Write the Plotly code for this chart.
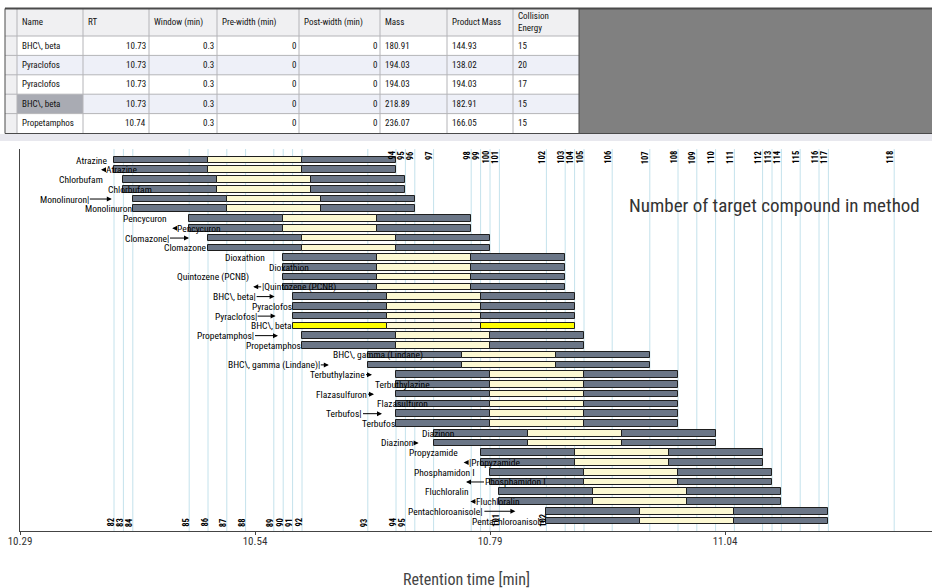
import plotly.graph_objects as go

# ---------------- table data ----------------
tbl_header = ["Name", "RT", "Window (min)", "Pre-width (min)", "Post-width (min)",
              "Mass", "Product Mass", "Collision<br>Energy"]
tbl_name = ["BHC\\, beta", "Pyraclofos", "Pyraclofos", "BHC\\, beta", "Propetamphos"]
tbl_rt = ["10.73", "10.73", "10.73", "10.73", "10.74"]
tbl_window = ["0.3", "0.3", "0.3", "0.3", "0.3"]
tbl_pre = ["0", "0", "0", "0", "0"]
tbl_post = ["0", "0", "0", "0", "0"]
tbl_mass = ["180.91", "194.03", "194.03", "218.89", "236.07"]
tbl_product = ["144.93", "138.02", "194.03", "182.91", "166.05"]
tbl_ce = ["15", "20", "17", "15", "15"]
tbl_selected_row = 3

# ---------------- chart data ----------------
compounds = [
    "Atrazine", "Atrazine", "Chlorbufam", "Chlorbufam", "Monolinuron", "Monolinuron",
    "Pencycuron", "Pencycuron", "Clomazone", "Clomazone", "Dioxathion", "Dioxathion",
    "Quintozene (PCNB)", "Quintozene (PCNB)", "BHC\\, beta", "Pyraclofos", "Pyraclofos",
    "BHC\\, beta", "Propetamphos", "Propetamphos", "BHC\\, gamma (Lindane)",
    "BHC\\, gamma (Lindane)", "Terbuthylazine", "Terbuthylazine", "Flazasulfuron",
    "Flazasulfuron", "Terbufos", "Terbufos", "Diazinon", "Diazinon", "Propyzamide",
    "Propyzamide", "Phosphamidon I", "Phosphamidon I", "Fluchloralin", "Fluchloralin",
    "Pentachloroanisole", "Pentachloroanisole",
]
rt = [10.54, 10.54, 10.55, 10.55, 10.56, 10.56, 10.62, 10.62, 10.64, 10.64,
      10.72, 10.72, 10.72, 10.72, 10.73, 10.73, 10.73, 10.73, 10.74, 10.74,
      10.81, 10.81, 10.84, 10.84, 10.84, 10.84, 10.84, 10.84, 10.88, 10.88,
      10.93, 10.93, 10.94, 10.94, 10.95, 10.95, 11.00, 11.00]
window = [0.3] * len(rt)
highlight_row = 17

line_numbers = list(range(82, 119))
line_times = [10.39, 10.40, 10.41, 10.47, 10.49, 10.51, 10.53, 10.56, 10.57, 10.58,
              10.59, 10.66, 10.69, 10.70, 10.71, 10.73, 10.77, 10.78, 10.79, 10.80,
              10.85, 10.87, 10.88, 10.89, 10.92, 10.96, 10.99, 11.01, 11.03, 11.05,
              11.08, 11.09, 11.10, 11.12, 11.14, 11.15, 11.22]
top_numbers = list(range(94, 119))
bottom_numbers = list(range(82, 96)) + [101, 102]

x_ticks = [10.29, 10.54, 10.79, 11.04]
x_tick_text = ["10.29", "10.54", "10.79", "11.04"]

# ---------------- styling ----------------
W, H = 932, 588
NARROW = "Roboto Condensed, DejaVu Sans Condensed, sans-serif"
GRAY = "#6b7687"
CREAM = "#fcf8d2"
YEL = "#ffff00"
OUT = "#1e1e1e"

def py(p):  # pixel y -> paper
    return (H - p) / H

def px(p):
    return p / W

label_spec = [
    ("end", -6, 0), ("larrow", -13, 4), ("end", -19, 0), ("start", -16, 0),
    ("rarrow", -21, 22), ("end", 0, 0), ("end", -21, 0), ("larrow", -17, 4),
    ("rarrow", -19, 19), ("end", 0, 0), ("end", -17, 0), ("start", -15, 0),
    ("end", -33, 0), ("larrow", -30, 8), ("rarrow", -18, 18), ("end", 0, 0),
    ("rarrow", -17, 18), ("end", 0, 0), ("rarrow", -24, 23), ("end", 0, 0),
    ("start", -36, 0), ("rarrow", -39, 8), ("rarrow", -24, 6), ("start", -22, 0),
    ("rarrow", -22, 6), ("start", -20, 0), ("rarrow", -14, 19), ("end", 0, 0),
    ("start", -13, 0), ("rarrow", -15, 5), ("end", -22, 0), ("larrow", -17, 4),
    ("end", -14, 0), ("larrow", -24, 18), ("end", -29, 0), ("larrow", -29, 5),
    ("rarrow", -31, 31), ("end", 0, 0),
]
bar_tick = {4, 8, 14, 16, 18, 21, 26, 36}
larrow_tick = {13, 31}

fig = go.Figure()
shapes = []
annotations = []

# ---------------- table (cells drawn as shapes, texts as annotations) ----------------
col_edges = [5, 17, 83, 149, 217, 299, 380, 447, 513, 579]
head_top, head_bot, row_h = 9, 36, 19.4
tbl_cols = [tbl_name, tbl_rt, tbl_window, tbl_pre, tbl_post, tbl_mass, tbl_product, tbl_ce]
tbl_align = ["left", "right", "right", "right", "right", "left", "left", "left"]
n = len(tbl_name)
grid = "#b4b4b8"
tfont = dict(family=NARROW, size=9, color="#111")

def prect(x0, x1, y0, y1, fill):
    return dict(type="rect", xref="paper", yref="paper", x0=px(x0), x1=px(x1),
                y0=py(y1), y1=py(y0), fillcolor=fill, line=dict(width=0), layer="above")

shapes.append(prect(col_edges[0], col_edges[-1], head_top, head_bot, "#f0f0f2"))
for r in range(n):
    y0 = head_bot + r * row_h
    shapes.append(prect(col_edges[1], col_edges[-1], y0, y0 + row_h,
                        "#ffffff" if r % 2 == 0 else "#eef0f8"))
    shapes.append(prect(col_edges[0], col_edges[1], y0, y0 + row_h, "#f0f0f2"))
    if r == tbl_selected_row:
        shapes.append(prect(col_edges[1], col_edges[2], y0, y0 + row_h, "#a9abb3"))
bottom = head_bot + n * row_h
for xe in col_edges[1:-1]:
    shapes.append(dict(type="line", xref="paper", yref="paper", x0=px(xe), x1=px(xe),
                       y0=py(bottom), y1=py(head_top), line=dict(color=grid, width=1),
                       layer="above"))
for r in range(n):
    ye = head_bot + r * row_h
    shapes.append(dict(type="line", xref="paper", yref="paper", x0=px(col_edges[0]), x1=px(col_edges[-1]),
                       y0=py(ye), y1=py(ye), line=dict(color=grid, width=1), layer="above"))
for c, h in enumerate(tbl_header):
    annotations.append(dict(x=px(col_edges[c + 1] + 4), y=py((head_top + head_bot) / 2 - 0.5),
                            xref="paper", yref="paper", text=h, showarrow=False,
                            xanchor="left", yanchor="middle", font=tfont, borderpad=0,
                            align="left"))
for c, (col, al) in enumerate(zip(tbl_cols, tbl_align)):
    for r, v in enumerate(col):
        yc = head_bot + r * row_h + row_h / 2
        if al == "left":
            xx, xa = col_edges[c + 1] + 4, "left"
        else:
            xx, xa = col_edges[c + 2] - 2, "right"
        annotations.append(dict(x=px(xx), y=py(yc), xref="paper", yref="paper", text=v,
                                showarrow=False, xanchor=xa, yanchor="middle", font=tfont,
                                borderpad=0))

# ---------------- bars ----------------
rows = list(range(len(compounds)))
seg = [w / 3 for w in window]
b0 = [r - w / 2 for r, w in zip(rt, window)]
b1 = [b + s for b, s in zip(b0, seg)]
b2 = [b + 2 * s for b, s in zip(b0, seg)]
side_col = [YEL if i == highlight_row else GRAY for i in rows]
for base, col in ((b0, side_col), (b1, [CREAM] * len(rows)), (b2, side_col)):
    fig.add_trace(go.Bar(y=rows, x=seg, base=base, orientation="h", width=0.68,
                         marker=dict(color=col, line=dict(color=OUT, width=1)),
                         hoverinfo="skip", showlegend=False))

lf = dict(family=NARROW, size=9.5, color="#000")
common = dict(xref="x", yref="y", yanchor="middle", font=lf, borderpad=0)
for i, (mode, dx, ln) in enumerate(label_spec):
    text = compounds[i]
    if mode == "end":
        annotations.append(dict(x=b0[i], y=i, text=text, showarrow=False,
                                xanchor="right", xshift=dx, **common))
    elif mode == "start":
        annotations.append(dict(x=b0[i], y=i, text=text, showarrow=False,
                                xanchor="left", xshift=dx, **common))
    elif mode == "rarrow":
        t = text + ("|" if i in bar_tick else "")
        annotations.append(dict(x=b0[i], y=i, text=t, showarrow=True,
                                ax=-ln, ay=0, xanchor="right", xshift=dx,
                                arrowhead=2, arrowsize=1, arrowwidth=1, arrowcolor="#000",
                                standoff=0, startstandoff=0, **common))
    else:
        t = ("|" if i in larrow_tick else "") + text
        annotations.append(dict(x=b0[i], y=i, text=t, showarrow=True,
                                ax=ln, ay=0, xanchor="left", xshift=dx,
                                arrowhead=2, arrowsize=1, arrowwidth=1, arrowcolor="#000",
                                standoff=0, startstandoff=0, **common))

# ---------------- vertical lines and their numbers ----------------
for t in line_times:
    shapes.append(dict(type="line", xref="x", yref="y domain", x0=t, x1=t, y0=0, y1=1,
                       layer="below", line=dict(color="#c4e2ec", width=1)))
nf = dict(family=NARROW, size=8.5, color="#000")
for num, t in zip(line_numbers, line_times):
    if num in top_numbers:
        annotations.append(dict(x=t, y=py(150), xref="x", yref="paper", text="<b>%d</b>" % num,
                                showarrow=False, textangle=-90, xanchor="center", yanchor="top",
                                xshift=-4, font=nf, borderpad=0))
    if num in bottom_numbers:
        annotations.append(dict(x=t, y=py(528), xref="x", yref="paper", text="<b>%d</b>" % num,
                                showarrow=False, textangle=-90, xanchor="center", yanchor="bottom",
                                xshift=-4, font=nf, borderpad=0))

# ---------------- frame pieces around the table ----------------
shapes += [
    prect(579, 932, 9, 133, "#808080"),
    prect(0, 932, 134, 141, "#e8e8ee"),
    dict(type="line", xref="paper", yref="paper", x0=px(5), x1=1, y0=py(8.5), y1=py(8.5),
         line=dict(color="#4a4a4a", width=2), layer="above"),
    dict(type="line", xref="paper", yref="paper", x0=px(5), x1=1, y0=py(133.5), y1=py(133.5),
         line=dict(color="#4a4a4a", width=1), layer="above"),
    dict(type="line", xref="paper", yref="paper", x0=px(5), x1=px(5), y0=py(133.5), y1=py(8.5),
         line=dict(color="#4a4a4a", width=1), layer="above"),
    dict(type="line", xref="paper", yref="paper", x0=px(579), x1=px(579), y0=py(133.5), y1=py(8.5),
         line=dict(color="#4a4a4a", width=1), layer="above"),
]

annotations += [
    dict(x=px(466), y=py(579.5), xref="paper", yref="paper", text="Retention time [min]",
         showarrow=False, xanchor="center", yanchor="middle",
         font=dict(family=NARROW, size=16, color="#444")),
    dict(x=px(627), y=py(205), xref="paper", yref="paper",
         text="Number of target compound in method", showarrow=False, xanchor="left",
         yanchor="middle", font=dict(family=NARROW, size=19, color="#333")),
]

fig.update_layout(
    width=W, height=H, margin=dict(l=0, r=0, t=0, b=0, pad=0, autoexpand=False),
    autosize=False,
    paper_bgcolor="white", plot_bgcolor="white",
    barmode="overlay", bargap=0, showlegend=False,
    xaxis=dict(domain=[px(20), 1], range=[10.29, 10.29 + 912 / 940], tickvals=x_ticks,
               ticktext=x_tick_text, showgrid=False, zeroline=False, showline=True,
               linecolor="#444", linewidth=1, ticks="outside", ticklen=3, tickcolor="#444",
               ticklabelstandoff=-3,
               tickfont=dict(family=NARROW, size=11, color="#333"), anchor="y",
               automargin=False),
    yaxis=dict(domain=[py(531), py(149)], range=[(531 - 160) / 9.757, (149 - 160) / 9.757],
               showgrid=False, zeroline=False, showticklabels=False, ticks="",
               showline=True, linecolor="#444", linewidth=1, anchor="x", automargin=False),
    shapes=shapes, annotations=annotations,
)

fig.write_html("out.html", config={"displayModeBar": False, "responsive": False},
               post_script="document.body.style.margin='0';")
